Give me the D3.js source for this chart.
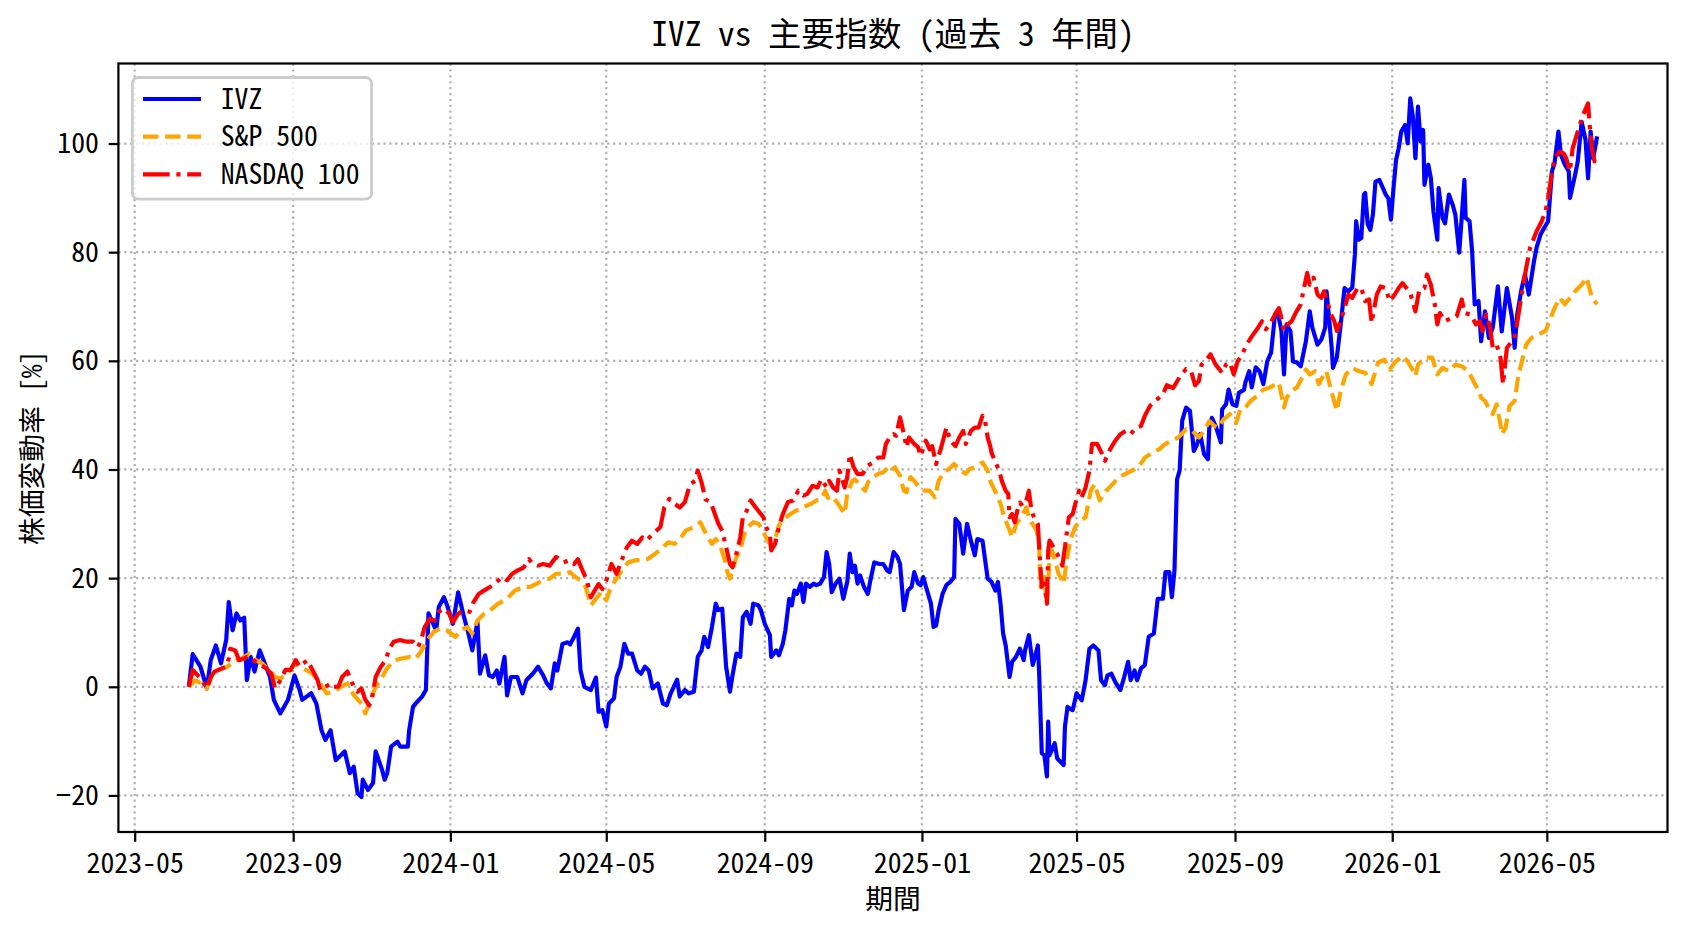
<!DOCTYPE html>
<html>
<head>
<meta charset="utf-8">
<script src="https://cdn.jsdelivr.net/npm/d3@7"></script>
<style>
  body { margin: 0; background: #fff; }
  text { font-family: 'Noto Sans Mono CJK JP', 'Noto Sans CJK JP', sans-serif; fill: #000; }
</style>
</head>
<body>
<svg id="chart" width="1688" height="932"></svg>
<script>
// percent change since start
const ivz = [
  ["2023-06-12",0],["2023-06-15",6.0],["2023-06-21",3.7],["2023-06-26",-0.3],["2023-06-29",4.9],["2023-07-03",7.6],
  ["2023-07-07",4.3],["2023-07-11",8.6],["2023-07-13",15.6],["2023-07-16",10.4],["2023-07-19",13.5],["2023-07-22",12.2],
  ["2023-07-25",12.7],["2023-07-27",1.2],["2023-07-30",5.5],["2023-08-02",2.8],["2023-08-06",6.7],["2023-08-11",3.7],
  ["2023-08-14",1.8],["2023-08-17",-2.4],["2023-08-22",-4.9],["2023-08-28",-2.4],["2023-09-02",2.1],["2023-09-06",-0.6],
  ["2023-09-08",-2.4],["2023-09-15",-1.2],["2023-09-19",-3.1],["2023-09-23",-8.0],["2023-09-26",-9.8],["2023-09-30",-8.0],
  ["2023-10-04",-13.5],["2023-10-11",-11.9],["2023-10-15",-15.9],["2023-10-18",-14.7],["2023-10-21",-19.6],["2023-10-24",-20.3],
  ["2023-10-25",-17.1],["2023-10-29",-19.0],["2023-11-02",-17.7],["2023-11-04",-11.9],["2023-11-09",-15.3],["2023-11-11",-17.1],
  ["2023-11-13",-15.9],["2023-11-16",-11.0],["2023-11-21",-10.1],["2023-11-23",-11.0],["2023-11-29",-11.0],["2023-11-30",-8.0],
  ["2023-12-03",-3.7],["2023-12-05",-3.1],["2023-12-10",-1.8],["2023-12-13",-0.6],["2023-12-15",13.5],["2023-12-21",10.4],
  ["2023-12-23",14.7],["2023-12-27",16.5],["2023-12-29",15.3],["2024-01-03",11.6],["2024-01-07",17.4],["2024-01-11",13.4],
  ["2024-01-15",9.8],["2024-01-18",6.7],["2024-01-22",11.9],["2024-01-24",2.4],["2024-01-28",5.8],["2024-01-31",2.1],
  ["2024-02-03",1.8],["2024-02-06",3.0],["2024-02-08",0.6],["2024-02-12",5.5],["2024-02-14",-1.6],["2024-02-17",1.8],
  ["2024-02-22",1.8],["2024-02-26",-1.2],["2024-02-29",1.2],["2024-03-05",2.4],["2024-03-09",3.7],["2024-03-13",2.1],
  ["2024-03-16",0.6],["2024-03-19",-0.3],["2024-03-22",4.3],["2024-03-24",3.0],["2024-03-28",7.9],["2024-04-01",8.2],
  ["2024-04-03",7.8],["2024-04-06",9.2],["2024-04-09",10.7],["2024-04-11",3.0],["2024-04-14",0.0],["2024-04-19",-0.6],
  ["2024-04-23",1.7],["2024-04-25",-4.6],["2024-04-28",-4.3],["2024-05-01",-7.3],["2024-05-03",-3.1],["2024-05-07",-2.1],
  ["2024-05-09",1.8],["2024-05-12",3.7],["2024-05-15",7.9],["2024-05-18",6.1],["2024-05-21",6.1],["2024-05-25",3.0],
  ["2024-05-28",2.4],["2024-05-31",3.7],["2024-06-03",3.0],["2024-06-06",-0.3],["2024-06-10",0.6],["2024-06-14",-3.1],
  ["2024-06-17",-3.4],["2024-06-20",-1.2],["2024-06-25",1.3],["2024-06-27",-1.8],["2024-07-01",-0.6],["2024-07-04",-1.2],
  ["2024-07-08",-0.9],["2024-07-11",5.5],["2024-07-14",6.7],["2024-07-16",9.2],["2024-07-19",7.3],["2024-07-22",11.0],
  ["2024-07-25",15.3],["2024-07-27",14.1],["2024-07-30",14.4],["2024-08-02",3.7],["2024-08-05",-0.9],["2024-08-07",2.1],
  ["2024-08-10",6.1],["2024-08-13",5.5],["2024-08-15",12.8],["2024-08-18",13.8],["2024-08-21",11.6],["2024-08-23",15.3],
  ["2024-08-27",15.0],["2024-08-29",14.1],["2024-09-01",11.6],["2024-09-05",9.5],["2024-09-06",5.5],["2024-09-10",6.7],
  ["2024-09-12",5.8],["2024-09-15",7.9],["2024-09-17",10.4],["2024-09-20",16.2],["2024-09-22",15.0],["2024-09-24",17.7],
  ["2024-09-26",17.1],["2024-09-29",19.0],["2024-10-01",15.6],["2024-10-03",19.0],["2024-10-06",18.4],["2024-10-09",19.0],
  ["2024-10-11",18.7],["2024-10-14",19.0],["2024-10-17",20.2],["2024-10-19",24.8],["2024-10-21",22.6],["2024-10-23",17.4],
  ["2024-10-26",19.0],["2024-10-29",19.9],["2024-11-01",16.2],["2024-11-04",19.3],["2024-11-06",24.5],["2024-11-08",21.1],
  ["2024-11-10",22.3],["2024-11-12",19.0],["2024-11-14",20.5],["2024-11-17",18.4],["2024-11-20",17.1],["2024-11-22",19.6],
  ["2024-11-25",22.9],["2024-11-29",22.6],["2024-12-02",22.6],["2024-12-05",21.4],["2024-12-07",21.1],["2024-12-10",24.8],
  ["2024-12-13",23.9],["2024-12-15",22.6],["2024-12-18",14.1],["2024-12-21",17.7],["2024-12-24",18.4],["2024-12-26",21.1],
  ["2024-12-29",19.0],["2024-12-31",18.7],["2025-01-02",20.2],["2025-01-05",17.7],["2025-01-08",15.3],["2025-01-10",11.0],
  ["2025-01-12",11.3],["2025-01-14",14.1],["2025-01-17",17.1],["2025-01-20",18.7],["2025-01-23",19.3],["2025-01-26",20.2],
  ["2025-01-27",30.9],["2025-01-30",30.0],["2025-02-02",24.5],["2025-02-05",30.0],["2025-02-08",26.9],["2025-02-11",24.2],
  ["2025-02-13",27.2],["2025-02-17",26.9],["2025-02-21",19.9],["2025-02-24",19.3],["2025-02-27",17.7],["2025-03-01",19.3],
  ["2025-03-03",15.3],["2025-03-05",9.8],["2025-03-07",7.6],["2025-03-10",1.8],["2025-03-12",4.6],["2025-03-15",5.5],
  ["2025-03-18",7.0],["2025-03-21",4.9],["2025-03-22",6.7],["2025-03-25",9.5],["2025-03-28",4.0],["2025-04-01",7.6],
  ["2025-04-02",2.4],["2025-04-04",-12.2],["2025-04-06",-12.6],["2025-04-08",-16.5],["2025-04-09",-6.4],["2025-04-10",-12.6],
  ["2025-04-14",-10.4],["2025-04-16",-13.2],["2025-04-21",-14.4],["2025-04-22",-7.3],["2025-04-24",-3.7],["2025-04-28",-4.3],
  ["2025-05-01",-1.2],["2025-05-05",-2.5],["2025-05-08",1.2],["2025-05-11",7.0],["2025-05-14",7.6],["2025-05-18",6.7],
  ["2025-05-20",1.2],["2025-05-23",0.3],["2025-05-25",2.1],["2025-05-28",2.4],["2025-05-31",0.9],["2025-06-04",-0.6],
  ["2025-06-07",1.8],["2025-06-10",4.6],["2025-06-12",1.2],["2025-06-15",3.0],["2025-06-17",1.2],["2025-06-20",3.4],
  ["2025-06-23",4.0],["2025-06-26",9.2],["2025-06-30",9.8],["2025-07-03",16.2],["2025-07-07",16.2],["2025-07-09",21.1],
  ["2025-07-12",21.1],["2025-07-14",16.5],["2025-07-16",21.4],["2025-07-18",38.2],["2025-07-20",39.8],["2025-07-22",49.0],
  ["2025-07-25",51.4],["2025-07-28",50.8],["2025-07-31",43.4],["2025-08-02",44.3],["2025-08-05",46.5],["2025-08-08",42.8],
  ["2025-08-11",41.9],["2025-08-12",47.7],["2025-08-14",49.5],["2025-08-17",48.0],["2025-08-21",45.0],["2025-08-22",51.1],
  ["2025-08-25",52.0],["2025-08-27",54.7],["2025-08-30",52.0],["2025-09-02",51.7],["2025-09-04",54.1],["2025-09-08",54.7],
  ["2025-09-09",56.0],["2025-09-12",58.1],["2025-09-14",55.1],["2025-09-17",58.8],["2025-09-20",58.1],["2025-09-23",55.7],
  ["2025-09-26",59.9],["2025-09-29",61.5],["2025-10-02",68.5],["2025-10-04",69.1],["2025-10-07",65.5],["2025-10-09",57.5],
  ["2025-10-11",66.7],["2025-10-14",65.5],["2025-10-16",59.9],["2025-10-19",59.7],["2025-10-22",59.0],["2025-10-26",63.6],
  ["2025-10-29",69.1],["2025-10-31",66.1],["2025-11-04",63.0],["2025-11-07",63.9],["2025-11-10",66.1],["2025-11-11",72.8],
  ["2025-11-13",67.9],["2025-11-15",62.4],["2025-11-16",58.7],["2025-11-19",60.6],["2025-11-22",66.7],["2025-11-25",73.4],
  ["2025-11-28",72.8],["2025-12-01",73.5],["2025-12-03",79.5],["2025-12-04",85.7],["2025-12-06",82.3],["2025-12-08",82.6],
  ["2025-12-10",90.6],["2025-12-11",90.9],["2025-12-13",85.1],["2025-12-15",84.1],["2025-12-17",86.9],["2025-12-19",93.0],
  ["2025-12-22",93.3],["2025-12-27",90.6],["2025-12-29",89.9],["2025-12-31",86.0],["2026-01-02",91.8],["2026-01-04",97.0],
  ["2026-01-06",99.1],["2026-01-08",102.2],["2026-01-11",103.4],["2026-01-13",100.0],["2026-01-15",108.3],["2026-01-17",104.9],
  ["2026-01-19",97.3],["2026-01-21",106.8],["2026-01-23",100.4],["2026-01-25",102.5],["2026-01-26",92.4],["2026-01-29",96.1],
  ["2026-01-31",93.6],["2026-02-02",87.5],["2026-02-05",82.3],["2026-02-06",91.8],["2026-02-09",86.3],["2026-02-11",85.3],
  ["2026-02-14",90.6],["2026-02-17",88.7],["2026-02-19",86.9],["2026-02-22",79.9],["2026-02-26",93.3],["2026-02-27",86.3],
  ["2026-03-02",85.7],["2026-03-04",80.2],["2026-03-06",70.4],["2026-03-09",71.0],["2026-03-11",63.6],["2026-03-14",69.1],
  ["2026-03-17",64.2],["2026-03-20",66.1],["2026-03-24",73.7],["2026-03-27",65.4],["2026-03-31",73.4],["2026-04-04",67.9],
  ["2026-04-06",62.4],["2026-04-08",68.5],["2026-04-11",72.8],["2026-04-14",75.9],["2026-04-17",72.2],["2026-04-21",78.3],
  ["2026-04-23",80.8],["2026-04-26",83.2],["2026-04-29",84.5],["2026-05-02",85.7],["2026-05-05",94.9],["2026-05-07",96.4],
  ["2026-05-10",102.2],["2026-05-12",97.9],["2026-05-15",96.1],["2026-05-18",94.9],["2026-05-19",90.0],["2026-05-23",94.3],
  ["2026-05-25",96.7],["2026-05-28",104.0],["2026-05-31",100.7],["2026-06-02",93.6],["2026-06-04",102.2],["2026-06-06",97.3],
  ["2026-06-09",101.3]
];

const sp500 = [
  ["2023-06-12",0],["2023-06-17",1.2],["2023-06-24",0.3],["2023-06-26",-0.3],["2023-06-30",2.1],["2023-07-05",3.1],
  ["2023-07-12",3.7],["2023-07-18",4.9],["2023-07-23",5.2],["2023-07-29",6.1],["2023-08-03",4.9],["2023-08-08",4.3],
  ["2023-08-13",3.1],["2023-08-18",1.8],["2023-08-22",1.5],["2023-08-28",2.4],["2023-09-02",4.3],["2023-09-06",3.7],
  ["2023-09-11",3.1],["2023-09-16",2.4],["2023-09-21",0.9],["2023-09-27",-1.2],["2023-10-03",-0.9],["2023-10-08",0],
  ["2023-10-13",0.6],["2023-10-18",-1.5],["2023-10-24",-3.1],["2023-10-27",-4.9],["2023-10-31",-2.4],["2023-11-04",0],
  ["2023-11-08",1.2],["2023-11-12",3.1],["2023-11-16",4.3],["2023-11-19",4.9],["2023-11-24",5.2],["2023-12-01",5.5],
  ["2023-12-05",5.2],["2023-12-09",6.4],["2023-12-14",8.6],["2023-12-19",10.1],["2023-12-24",10.7],["2023-12-29",10.4],
  ["2024-01-05",9.2],["2024-01-09",10.4],["2024-01-14",11.0],["2024-01-18",9.8],["2024-01-22",12.2],["2024-01-27",13.4],
  ["2024-02-01",14.1],["2024-02-07",15.3],["2024-02-14",16.2],["2024-02-20",17.7],["2024-02-27",18.4],["2024-03-03",18.4],
  ["2024-03-08",19.0],["2024-03-13",19.6],["2024-03-18",19.9],["2024-03-23",20.8],["2024-03-30",20.8],["2024-04-03",21.1],
  ["2024-04-07",20.2],["2024-04-11",19.6],["2024-04-15",18.4],["2024-04-19",15.0],["2024-04-23",16.2],["2024-04-27",17.4],
  ["2024-05-01",15.9],["2024-05-04",18.0],["2024-05-08",19.6],["2024-05-13",21.4],["2024-05-18",22.9],["2024-05-24",23.3],
  ["2024-05-29",23.3],["2024-06-02",23.5],["2024-06-08",24.5],["2024-06-13",25.4],["2024-06-18",26.6],["2024-06-23",26.3],
  ["2024-06-27",27.2],["2024-07-02",28.8],["2024-07-08",29.4],["2024-07-13",30.3],["2024-07-16",28.8],["2024-07-19",27.5],
  ["2024-07-22",26.3],["2024-07-25",27.2],["2024-07-28",26.3],["2024-08-01",23.3],["2024-08-03",21.1],["2024-08-05",19.9],
  ["2024-08-07",21.4],["2024-08-10",23.9],["2024-08-13",25.1],["2024-08-16",28.1],["2024-08-19",29.4],["2024-08-23",30.3],
  ["2024-08-27",30.0],["2024-08-30",29.1],["2024-09-02",27.5],["2024-09-05",26.3],["2024-09-09",27.2],["2024-09-12",29.7],
  ["2024-09-16",30.9],["2024-09-21",31.8],["2024-09-25",32.4],["2024-09-29",32.7],["2024-10-03",33.3],["2024-10-07",33.7],
  ["2024-10-11",34.3],["2024-10-15",34.6],["2024-10-18",36.1],["2024-10-21",34.3],["2024-10-25",34.6],["2024-10-29",33.3],
  ["2024-11-02",31.8],["2024-11-04",35.5],["2024-11-08",37.9],["2024-11-10",38.2],["2024-11-14",37.0],["2024-11-18",36.1],
  ["2024-11-20",37.6],["2024-11-24",38.6],["2024-11-28",39.2],["2024-12-02",39.5],["2024-12-06",40.4],["2024-12-08",39.8],
  ["2024-12-11",40.4],["2024-12-15",38.8],["2024-12-18",36.1],["2024-12-20",35.8],["2024-12-23",38.6],["2024-12-26",37.9],
  ["2024-12-30",36.7],["2025-01-03",36.1],["2025-01-07",36.1],["2025-01-11",34.9],["2025-01-14",37.9],["2025-01-18",39.5],
  ["2025-01-22",40.1],["2025-01-26",41.0],["2025-01-31",39.8],["2025-02-04",39.2],["2025-02-07",40.1],["2025-02-11",40.4],
  ["2025-02-17",41.3],["2025-02-21",39.8],["2025-02-23",37.9],["2025-02-26",36.4],["2025-03-01",34.9],["2025-03-03",33.7],
  ["2025-03-06",31.2],["2025-03-10",28.8],["2025-03-12",27.5],["2025-03-15",29.9],["2025-03-19",31.2],["2025-03-23",33.0],
  ["2025-03-25",31.2],["2025-03-28",29.9],["2025-03-31",28.8],["2025-04-02",26.3],["2025-04-03",18.4],["2025-04-06",20.2],
  ["2025-04-08",15.0],["2025-04-10",23.3],["2025-04-12",25.1],["2025-04-15",22.6],["2025-04-17",20.8],["2025-04-21",19.0],
  ["2025-04-23",22.6],["2025-04-26",26.9],["2025-04-30",29.4],["2025-05-04",30.6],["2025-05-08",31.2],["2025-05-12",36.1],
  ["2025-05-15",37.3],["2025-05-19",34.3],["2025-05-24",36.1],["2025-05-29",37.3],["2025-06-03",38.6],["2025-06-08",39.2],
  ["2025-06-13",39.8],["2025-06-18",40.4],["2025-06-23",42.2],["2025-06-29",43.1],["2025-07-04",43.7],["2025-07-09",44.7],
  ["2025-07-14",45.3],["2025-07-19",45.9],["2025-07-25",47.4],["2025-07-30",47.1],["2025-08-04",45.9],["2025-08-08",47.1],
  ["2025-08-12",48.9],["2025-08-16",48.0],["2025-08-19",47.7],["2025-08-23",49.2],["2025-08-28",50.2],["2025-09-02",48.6],
  ["2025-09-05",51.1],["2025-09-09",51.4],["2025-09-13",52.6],["2025-09-18",53.5],["2025-09-23",54.7],["2025-09-28",55.1],
  ["2025-10-05",56.0],["2025-10-09",51.4],["2025-10-11",53.2],["2025-10-15",54.5],["2025-10-19",55.1],["2025-10-23",56.9],
  ["2025-10-26",58.4],["2025-10-29",57.5],["2025-11-02",58.1],["2025-11-05",55.7],["2025-11-09",57.5],["2025-11-11",58.1],
  ["2025-11-14",55.1],["2025-11-19",50.8],["2025-11-22",54.5],["2025-11-26",57.5],["2025-12-01",58.7],["2025-12-06",58.1],
  ["2025-12-11",57.8],["2025-12-16",55.7],["2025-12-21",59.7],["2025-12-26",60.2],["2025-12-30",58.4],["2026-01-03",59.7],
  ["2026-01-09",60.9],["2026-01-12",60.2],["2026-01-16",58.7],["2026-01-19",57.2],["2026-01-21",59.3],["2026-01-27",60.6],
  ["2026-02-01",60.6],["2026-02-05",57.5],["2026-02-09",58.7],["2026-02-14",58.1],["2026-02-19",59.3],["2026-02-24",59.0],
  ["2026-03-01",58.1],["2026-03-05",56.3],["2026-03-09",54.5],["2026-03-11",53.2],["2026-03-14",52.6],["2026-03-18",50.8],
  ["2026-03-20",50.2],["2026-03-23",52.0],["2026-03-26",48.3],["2026-03-27",46.5],["2026-03-30",47.7],["2026-04-02",51.7],
  ["2026-04-06",52.6],["2026-04-09",57.5],["2026-04-11",59.3],["2026-04-15",63.0],["2026-04-19",64.2],["2026-04-24",64.8],
  ["2026-04-30",65.5],["2026-05-03",67.3],["2026-05-07",69.7],["2026-05-11",71.6],["2026-05-15",70.4],["2026-05-19",71.6],
  ["2026-05-23",72.8],["2026-05-28",74.0],["2026-06-01",75.3],["2026-06-03",73.4],["2026-06-05",71.6],["2026-06-09",70.4]
];

const nasdaq100 = [
  ["2023-06-12",0],["2023-06-15",3.1],["2023-06-19",2.1],["2023-06-22",1.2],["2023-06-26",-0.3],["2023-06-29",1.8],
  ["2023-07-02",2.8],["2023-07-05",3.1],["2023-07-11",3.7],["2023-07-13",5.2],["2023-07-14",7.0],["2023-07-18",6.7],
  ["2023-07-21",4.9],["2023-07-25",5.2],["2023-07-27",5.5],["2023-07-31",5.2],["2023-08-03",4.6],["2023-08-07",4.0],
  ["2023-08-11",3.4],["2023-08-15",2.4],["2023-08-18",-0.3],["2023-08-22",1.2],["2023-08-26",3.1],["2023-08-30",3.1],
  ["2023-09-03",4.9],["2023-09-06",3.7],["2023-09-09",4.3],["2023-09-12",4.9],["2023-09-16",3.1],["2023-09-20",1.2],
  ["2023-09-22",-0.6],["2023-09-26",0],["2023-09-30",0.6],["2023-10-02",0],["2023-10-06",0],["2023-10-09",1.8],
  ["2023-10-13",2.8],["2023-10-15",1.8],["2023-10-18",0],["2023-10-21",-0.9],["2023-10-24",-0.3],["2023-10-27",-2.4],
  ["2023-10-30",-3.4],["2023-11-01",-2.4],["2023-11-04",1.8],["2023-11-08",3.7],["2023-11-12",4.9],["2023-11-14",6.7],
  ["2023-11-18",8.3],["2023-11-23",8.6],["2023-11-28",8.3],["2023-12-03",8.3],["2023-12-07",7.3],["2023-12-10",9.2],
  ["2023-12-12",11.0],["2023-12-16",12.5],["2023-12-20",12.2],["2023-12-23",13.8],["2023-12-27",14.4],["2023-12-31",13.5],
  ["2024-01-03",11.9],["2024-01-07",13.4],["2024-01-11",14.1],["2024-01-16",13.8],["2024-01-19",15.6],["2024-01-23",17.1],
  ["2024-01-27",17.7],["2024-02-01",18.4],["2024-02-06",19.3],["2024-02-10",20.2],["2024-02-14",19.6],["2024-02-18",20.8],
  ["2024-02-22",21.4],["2024-02-27",22.0],["2024-03-02",23.5],["2024-03-05",22.6],["2024-03-09",22.3],["2024-03-13",22.6],
  ["2024-03-18",22.3],["2024-03-23",23.9],["2024-03-29",22.9],["2024-04-02",23.3],["2024-04-06",22.6],["2024-04-09",23.5],
  ["2024-04-12",21.7],["2024-04-16",19.6],["2024-04-19",16.5],["2024-04-22",17.7],["2024-04-25",18.9],["2024-04-28",18.0],
  ["2024-05-01",19.6],["2024-05-05",22.6],["2024-05-09",20.8],["2024-05-13",23.3],["2024-05-17",25.7],["2024-05-21",26.9],
  ["2024-05-25",26.3],["2024-05-29",27.5],["2024-06-01",26.9],["2024-06-06",28.1],["2024-06-12",29.4],["2024-06-15",33.0],
  ["2024-06-19",34.6],["2024-06-23",33.7],["2024-06-27",33.0],["2024-07-01",34.0],["2024-07-05",37.3],["2024-07-09",37.9],
  ["2024-07-11",39.8],["2024-07-14",37.6],["2024-07-17",34.5],["2024-07-21",34.0],["2024-07-24",32.0],["2024-07-27",30.0],
  ["2024-07-30",28.7],["2024-08-02",25.7],["2024-08-05",22.6],["2024-08-07",22.0],["2024-08-10",24.5],["2024-08-13",27.5],
  ["2024-08-15",31.2],["2024-08-18",32.4],["2024-08-21",34.3],["2024-08-24",33.3],["2024-08-27",32.4],["2024-08-31",31.2],
  ["2024-09-02",29.4],["2024-09-05",28.1],["2024-09-06",25.1],["2024-09-09",26.3],["2024-09-12",29.4],["2024-09-15",31.8],
  ["2024-09-19",34.0],["2024-09-23",34.3],["2024-09-27",36.1],["2024-10-01",35.2],["2024-10-04",35.5],["2024-10-08",37.0],
  ["2024-10-12",36.7],["2024-10-15",38.2],["2024-10-19",36.7],["2024-10-21",37.9],["2024-10-24",36.7],["2024-10-27",36.1],
  ["2024-10-29",39.8],["2024-11-02",36.7],["2024-11-04",38.5],["2024-11-06",42.8],["2024-11-09",40.4],["2024-11-12",39.2],
  ["2024-11-16",39.2],["2024-11-20",40.7],["2024-11-24",41.3],["2024-11-28",42.2],["2024-12-02",42.2],["2024-12-04",44.7],
  ["2024-12-07",45.9],["2024-12-10",46.5],["2024-12-12",46.2],["2024-12-15",49.6],["2024-12-18",46.5],["2024-12-20",44.1],
  ["2024-12-22",45.9],["2024-12-26",44.7],["2024-12-29",44.1],["2024-12-31",42.5],["2025-01-04",45.3],["2025-01-07",43.7],
  ["2025-01-09",44.3],["2025-01-12",41.0],["2025-01-16",44.1],["2025-01-20",47.7],["2025-01-23",45.3],["2025-01-27",44.3],
  ["2025-01-30",45.9],["2025-02-02",47.1],["2025-02-04",44.7],["2025-02-08",47.1],["2025-02-11",47.7],["2025-02-14",47.7],
  ["2025-02-17",49.9],["2025-02-19",48.9],["2025-02-21",45.9],["2025-02-23",44.3],["2025-02-24",43.1],["2025-02-27",41.3],
  ["2025-03-02",39.8],["2025-03-04",37.9],["2025-03-07",36.1],["2025-03-09",35.5],["2025-03-10",31.2],["2025-03-12",31.8],
  ["2025-03-14",30.3],["2025-03-16",32.4],["2025-03-18",33.9],["2025-03-20",33.3],["2025-03-23",34.3],["2025-03-25",36.1],
  ["2025-03-27",32.4],["2025-03-29",31.2],["2025-04-01",29.9],["2025-04-02",25.6],["2025-04-04",18.4],["2025-04-06",19.0],
  ["2025-04-08",15.3],["2025-04-09",25.1],["2025-04-10",26.9],["2025-04-13",25.7],["2025-04-16",24.5],["2025-04-18",23.3],
  ["2025-04-20",22.3],["2025-04-22",25.7],["2025-04-25",31.2],["2025-04-28",31.8],["2025-04-30",33.7],["2025-05-03",36.1],
  ["2025-05-05",34.9],["2025-05-08",36.7],["2025-05-11",39.8],["2025-05-13",44.7],["2025-05-17",44.7],["2025-05-21",42.8],
  ["2025-05-23",41.6],["2025-05-27",43.7],["2025-05-31",45.3],["2025-06-04",46.5],["2025-06-08",47.1],["2025-06-12",46.5],
  ["2025-06-16",47.7],["2025-06-20",48.0],["2025-06-23",49.9],["2025-06-27",51.7],["2025-07-01",52.6],["2025-07-07",53.8],
  ["2025-07-10",55.5],["2025-07-15",55.0],["2025-07-20",57.0],["2025-07-25",58.5],["2025-07-29",58.0],["2025-08-01",55.5],
  ["2025-08-04",56.3],["2025-08-06",59.3],["2025-08-09",59.9],["2025-08-13",61.2],["2025-08-17",59.3],["2025-08-19",58.7],
  ["2025-08-22",57.8],["2025-08-25",59.3],["2025-08-28",59.7],["2025-08-31",57.5],["2025-09-03",59.9],["2025-09-06",60.9],
  ["2025-09-10",63.0],["2025-09-14",64.5],["2025-09-18",65.8],["2025-09-22",67.3],["2025-09-25",65.8],["2025-09-28",66.7],
  ["2025-10-02",68.5],["2025-10-05",69.7],["2025-10-07",67.9],["2025-10-09",65.5],["2025-10-12",66.7],["2025-10-15",67.3],
  ["2025-10-18",68.8],["2025-10-22",70.4],["2025-10-24",72.8],["2025-10-27",76.2],["2025-10-29",74.0],["2025-11-01",75.3],
  ["2025-11-04",72.2],["2025-11-07",71.6],["2025-11-09",72.8],["2025-11-12",70.7],["2025-11-14",68.8],["2025-11-17",67.3],
  ["2025-11-19",65.5],["2025-11-22",67.3],["2025-11-25",69.7],["2025-11-28",72.2],["2025-12-01",71.6],["2025-12-05",73.4],
  ["2025-12-08",73.4],["2025-12-11",71.0],["2025-12-14",71.3],["2025-12-16",67.0],["2025-12-20",72.2],["2025-12-23",73.7],
  ["2025-12-27",73.4],["2025-12-30",71.0],["2026-01-03",72.2],["2026-01-06",73.4],["2026-01-09",74.3],["2026-01-12",73.4],
  ["2026-01-15",72.5],["2026-01-19",69.1],["2026-01-22",73.1],["2026-01-26",73.4],["2026-01-28",75.9],["2026-01-31",74.0],
  ["2026-02-03",70.4],["2026-02-05",66.7],["2026-02-07",68.8],["2026-02-11",67.3],["2026-02-16",67.9],["2026-02-20",68.2],
  ["2026-02-24",71.3],["2026-02-26",68.8],["2026-03-03",68.5],["2026-03-07",66.7],["2026-03-10",67.3],["2026-03-12",65.5],
  ["2026-03-15",68.5],["2026-03-18",66.1],["2026-03-20",62.4],["2026-03-23",63.0],["2026-03-26",60.6],["2026-03-28",55.7],
  ["2026-03-31",62.4],["2026-04-02",63.0],["2026-04-06",64.2],["2026-04-09",68.5],["2026-04-11",71.6],["2026-04-15",77.1],
  ["2026-04-18",80.8],["2026-04-21",82.6],["2026-04-23",83.8],["2026-04-27",85.7],["2026-04-30",87.5],["2026-05-02",90.0],
  ["2026-05-05",94.9],["2026-05-07",97.3],["2026-05-11",98.5],["2026-05-14",98.2],["2026-05-16",97.3],["2026-05-19",94.9],
  ["2026-05-21",99.1],["2026-05-25",102.2],["2026-05-29",105.2],["2026-06-02",107.4],["2026-06-03",104.0],["2026-06-05",99.1],
  ["2026-06-07",96.7],["2026-06-09",97.9]
];

const seriesNames = ["IVZ", "S&P 500", "NASDAQ 100"];
const xTickLabels = ["2023-05", "2023-09", "2024-01", "2024-05", "2024-09", "2025-01", "2025-05", "2025-09", "2026-01", "2026-05"];
const yTickValues = [-20, 0, 20, 40, 60, 80, 100];

// layout (the original figure was saved at 200 dpi, so 1pt = 200/72 px)
const PT = 200 / 72;
const box = { left: 118.4, top: 63.5, right: 1667.5, bottom: 832 };
const LW = 1.5 * PT;
const FS = 10 * PT;   // ticks, labels, legend
const FS_TITLE = 12 * PT;

const parseDay = d3.timeParse("%Y-%m-%d");
const parseMonth = d3.timeParse("%Y-%m");

const series = [
  { name: seriesNames[0], raw: ivz, color: "blue", dash: null },
  { name: seriesNames[1], raw: sp500, color: "orange", dash: [3.7 * LW, 1.6 * LW] },
  { name: seriesNames[2], raw: nasdaq100, color: "red", dash: [6.4 * LW, 1.6 * LW, 1 * LW, 1.6 * LW] }
].map(s => ({ ...s, pts: s.raw.map(([d, v]) => ({ date: parseDay(d), v: v })) }));

// 5% padding on both axes, like matplotlib's default margins
const all = series.flatMap(s => s.pts);
const [d0, d1] = d3.extent(all, p => p.date);
const [v0, v1] = d3.extent(all, p => p.v);
const dPad = (d1 - d0) * 0.05, vPad = (v1 - v0) * 0.05;

const x = d3.scaleTime()
  .domain([new Date(+d0 - dPad), new Date(+d1 + dPad)])
  .range([box.left, box.right]);
const y = d3.scaleLinear()
  .domain([v0 - vPad, v1 + vPad])
  .range([box.bottom, box.top]);

const svg = d3.select("#chart");
svg.append("rect").attr("width", 1688).attr("height", 932).attr("fill", "#fff");

// grid
const xTicks = xTickLabels.map(parseMonth);
const grid = svg.append("g").attr("stroke", "#b0b0b0").attr("stroke-width", 0.8 * PT)
  .attr("stroke-dasharray", `${0.8 * PT},${1.32 * PT}`);
grid.selectAll("line.gx").data(xTicks).join("line").attr("class", "gx")
  .attr("x1", d => x(d)).attr("x2", d => x(d))
  .attr("y1", box.top).attr("y2", box.bottom);
grid.selectAll("line.gy").data(yTickValues).join("line").attr("class", "gy")
  .attr("x1", box.left).attr("x2", box.right)
  .attr("y1", d => y(d)).attr("y2", d => y(d));

// lines
const line = d3.line().x(p => x(p.date)).y(p => y(p.v));
svg.append("g").selectAll("path").data(series).join("path")
  .attr("d", s => line(s.pts))
  .attr("fill", "none")
  .attr("stroke", s => s.color)
  .attr("stroke-width", LW)
  .attr("stroke-linejoin", "round")
  .attr("stroke-dasharray", s => s.dash ? s.dash.join(",") : null);

// axes
const tickLen = 3.5 * PT;
const xAxis = svg.append("g").attr("transform", `translate(0,${box.bottom})`)
  .call(d3.axisBottom(x).tickValues(xTicks).tickFormat(d3.timeFormat("%Y-%m"))
    .tickSizeInner(tickLen).tickSizeOuter(0).tickPadding(tickLen));
const yAxis = svg.append("g").attr("transform", `translate(${box.left},0)`)
  .call(d3.axisLeft(y).tickValues(yTickValues).tickFormat(d => d < 0 ? "\u2212" + Math.abs(d) : d)
    .tickSizeInner(tickLen).tickSizeOuter(0).tickPadding(tickLen));
[xAxis, yAxis].forEach(g => {
  g.select(".domain").remove();
  g.selectAll(".tick line").attr("stroke", "#000").attr("stroke-width", 0.8 * PT);
  g.selectAll(".tick text").attr("font-size", FS).attr("font-family", null).attr("fill", "#000");
});
xAxis.selectAll(".tick text").attr("y", tickLen * 2 + 2);

// frame
svg.append("rect")
  .attr("x", box.left).attr("y", box.top)
  .attr("width", box.right - box.left).attr("height", box.bottom - box.top)
  .attr("fill", "none").attr("stroke", "#000").attr("stroke-width", 0.8 * PT);

// titles
const midX = (box.left + box.right) / 2;
svg.append("text").attr("x", midX).attr("y", 46).attr("text-anchor", "middle")
  .attr("font-size", FS_TITLE).text("IVZ vs 主要指数 (過去 3 年間)");
svg.append("text").attr("x", midX).attr("y", 909).attr("text-anchor", "middle")
  .attr("font-size", FS).text("期間");
svg.append("text")
  .attr("transform", `translate(42,${(box.top + box.bottom) / 2}) rotate(-90)`)
  .attr("text-anchor", "middle").attr("font-size", FS).text("株価変動率 [%]");

// legend
const leg = svg.append("g");
const legFrame = leg.append("rect")
  .attr("x", 132.4).attr("y", 77.5).attr("rx", 6).attr("ry", 6)
  .attr("fill", "#fff").attr("fill-opacity", 0.8)
  .attr("stroke", "#cccccc").attr("stroke-width", 1 * PT);
const rowY = [99, 136.7, 174.4];
const items = leg.selectAll("g.item").data(series).join("g").attr("class", "item")
  .attr("transform", (s, i) => `translate(0,${rowY[i]})`);
items.append("line")
  .attr("x1", 143).attr("x2", 201)
  .attr("stroke", s => s.color).attr("stroke-width", LW)
  .attr("stroke-dasharray", s => s.dash ? s.dash.join(",") : null);
items.append("text").attr("x", 220.7).attr("dy", "0.35em")
  .attr("font-size", FS).text(s => s.name);
const textRight = d3.max(items.selectAll("text").nodes(), n => n.getBBox().x + n.getBBox().width);
legFrame.attr("width", textRight + 12 - 132.4).attr("height", 121.7);
</script>
</body>
</html>
